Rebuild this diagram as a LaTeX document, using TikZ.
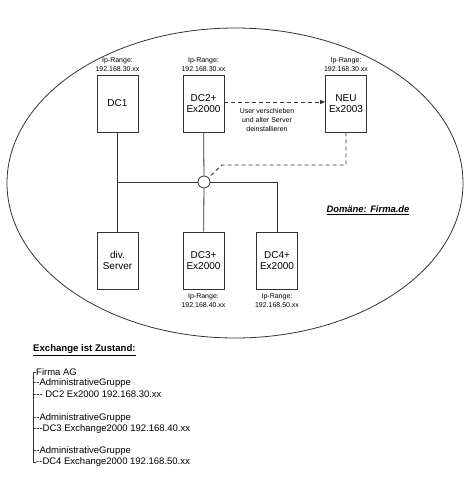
\documentclass[tikz,border=0pt]{standalone}
\usepackage{fontspec}
\setmainfont{Liberation Sans}[Ligatures=TeXOff]
\usepackage{tikz}
\usetikzlibrary{positioning,arrows.meta}
\definecolor{ink}{HTML}{333333}

\begin{document}
\begin{tikzpicture}[
  x=1pt, y=-1pt,
  >={Triangle[length=5pt,width=4pt]},
  srv/.style={draw=ink, line width=0.8pt, minimum width=41pt, minimum height=57pt,
              align=center, font=\fontsize{10}{11.5}\selectfont, inner sep=1pt},
  iptag/.style={font=\fontsize{7}{9}\selectfont, align=center, inner sep=0pt},
  ln/.style={draw=ink, line width=0.8pt},
  dsh/.style={draw=ink, line width=0.8pt, dash pattern=on 4pt off 3pt},
  hub/.style={draw=ink, line width=0.8pt, circle, fill=white, inner sep=0pt,
              minimum size=12pt},
  lst/.style={font=\fontsize{9.5}{11}\selectfont, anchor=west, inner sep=0pt}
]
\useasboundingbox (0,0) rectangle (470,480);

% ==== domain
\draw[line width=0.8pt, draw=ink] (235,183) ellipse [x radius=228, y radius=155];
\node[font=\bfseries\itshape\fontsize{9.4}{10}\selectfont] (dom) at (368,210)
     {\underline{Domäne: Firma.de}};

% ==== servers, top row
\node[srv] (dc1) at (117.5,103.5) {DC1};
\node[srv] (dc2) at (203.5,103.5) {DC2+\\Ex2000};
\node[srv] (neu) at (346,103.5)   {NEU\\Ex2003};
\foreach \n in {dc1, dc2, neu} {
  \node[iptag, above=3pt of \n] (ip\n) {Ip-Range:\\192.168.30.xx};
}

% ==== servers, bottom row
\node[srv] (div) at (117.5,260.5) {div.\\Server};
\node[srv] (dc3) at (203.5,260.5) {DC3+\\Ex2000};
\node[srv] (dc4) at (277,260.5)   {DC4+\\Ex2000};
\node[iptag, below=4pt of dc3] (ipdc3) {Ip-Range:\\192.168.40.xx};
\node[iptag, below=4pt of dc4] (ipdc4) {Ip-Range:\\192.168.50.xx};

% ==== network
\coordinate (busL) at (117.5,182);
\coordinate (busR) at (277,182);
\node[hub] (hb) at (204,182) {};
\draw[ln] (dc1) -- (div);
\draw[ln] (busL) -- (hb) -- (busR) -- (dc4);
\draw[ln] (dc2) -- (hb) -- (dc3);

% ==== migration
\draw[dsh, ->] (dc2.east |- 0,102) -- (neu.west |- 0,102);
\node[iptag] (mv) at (267,120) {User verschieben\\und alter Server\\deinstallieren};
\coordinate (dn) at (346,165);
\coordinate (dl) at (222,165);
\draw[dsh] (neu) -- (dn) -- (dl) -- (hb);

% ==== state of exchange
\node[font=\bfseries\fontsize{9.6}{11}\selectfont, anchor=west, inner sep=0pt] (ttl)
     at (33,350) {\underline{Exchange ist Zustand:}};
\draw[line width=0.6pt, draw=ink] (36,372) -- (33,372) -- (33,462) -- (36,462);
\node[lst] (t1) at (36,372) {Firma AG};
\node[lst] (t2) at (33,383) {--AdministrativeGruppe};
\node[lst] (t3) at (33,394) {--- DC2 Ex2000 192.168.30.xx};
\node[lst] (t4) at (33,418) {--AdministrativeGruppe};
\node[lst] (t5) at (33,429) {---DC3 Exchange2000 192.168.40.xx};
\node[lst] (t6) at (33,451) {--AdministrativeGruppe};
\node[lst] (t7) at (36,462) {--DC4 Exchange2000 192.168.50.xx};

\end{tikzpicture}
\end{document}
